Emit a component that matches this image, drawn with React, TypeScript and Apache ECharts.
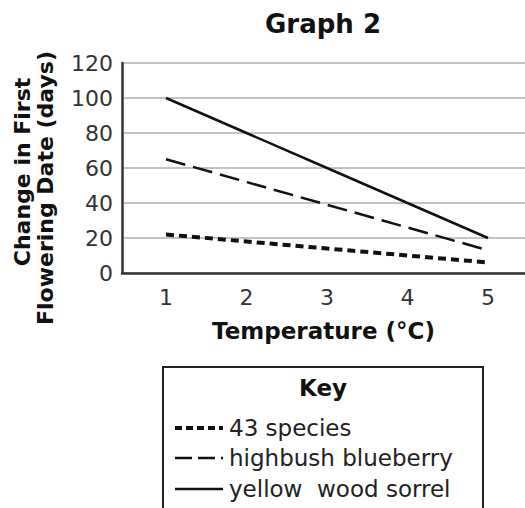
import React, { useEffect, useRef } from "react";
import * as echarts from "echarts";

const temperatures = [1, 2, 3, 4, 5];
const species43 = [22, 18, 14, 10, 6];
const blueberry = [65, 52, 39, 26, 13];
const sorrel = [100, 80, 60, 40, 20];
const yTicks = [0, 20, 40, 60, 80, 100, 120];
const seriesNames = ["43 species", "highbush blueberry", "yellow  wood sorrel"];

const FONT = "DejaVu Sans, Verdana, sans-serif";

export default function App() {
  const ref = useRef<HTMLDivElement>(null);
  useEffect(() => {
    if (!ref.current) return;
    const chart = echarts.init(ref.current, null, { renderer: "svg" });
    const pts = (vals: number[]) => temperatures.map((t, i) => [t, vals[i]]);
    const legendY = [428, 458, 489];
    const dashes: any[] = [
      { lineWidth: 4, lineDash: [7, 4] },
      { lineWidth: 2.5, lineDash: [17, 6] },
      { lineWidth: 2.5, lineDash: null },
    ];
    chart.setOption({
      animation: false,
      textStyle: { fontFamily: FONT },
      grid: { left: 122, right: 0, top: 63, bottom: 235 },
      xAxis: {
        type: "value",
        min: 0.453,
        max: 5.46,
        name: "Temperature (°C)",
        nameLocation: "middle",
        nameGap: 46,
        nameTextStyle: { fontSize: 23, fontWeight: "bold", color: "#111", fontFamily: FONT },
        axisLine: { show: true, lineStyle: { color: "#333", width: 2.5 } },
        axisTick: { show: false },
        splitLine: { show: false },
        axisLabel: {
          customValues: temperatures,
          fontSize: 22,
          color: "#333",
          margin: 13,
          fontFamily: FONT,
        },
      },
      yAxis: {
        type: "value",
        min: 0,
        max: 120,
        interval: 20,
        axisLine: { show: true, lineStyle: { color: "#333", width: 2.5 } },
        axisTick: { show: false },
        splitLine: { show: true, lineStyle: { color: "#c4c4c4", width: 2 } },
        axisLabel: {
          customValues: yTicks,
          fontSize: 22,
          color: "#333",
          margin: 9,
          fontFamily: FONT,
        },
      },
      series: [
        {
          name: seriesNames[0],
          type: "line",
          data: pts(species43),
          symbol: "none",
          lineStyle: { color: "#111", width: 4, type: [8, 5], cap: "butt" },
        },
        {
          name: seriesNames[1],
          type: "line",
          data: pts(blueberry),
          symbol: "none",
          lineStyle: { color: "#111", width: 2.5, type: [20, 8] },
        },
        {
          name: seriesNames[2],
          type: "line",
          data: pts(sorrel),
          symbol: "none",
          lineStyle: { color: "#111", width: 2.5 },
        },
      ],
      graphic: [
        {
          type: "text",
          x: 323,
          y: 24,
          style: { text: "Graph 2", font: `bold 26px ${FONT}`, fill: "#111", align: "center", verticalAlign: "middle" },
        },
        {
          type: "text",
          x: 22,
          y: 172,
          rotation: Math.PI / 2,
          style: { text: "Change in First", font: `bold 22px ${FONT}`, fill: "#111", align: "center", verticalAlign: "middle" },
        },
        {
          type: "text",
          x: 45,
          y: 188,
          rotation: Math.PI / 2,
          style: { text: "Flowering Date (days)", font: `bold 22px ${FONT}`, fill: "#111", align: "center", verticalAlign: "middle" },
        },
        {
          type: "rect",
          shape: { x: 163, y: 367, width: 320, height: 170 },
          style: { fill: "#fff", stroke: "#222", lineWidth: 2 },
        },
        {
          type: "text",
          x: 323,
          y: 388,
          style: { text: "Key", font: `bold 23px ${FONT}`, fill: "#111", align: "center", verticalAlign: "middle" },
        },
        ...seriesNames.flatMap((n, i) => [
          {
            type: "line",
            shape: { x1: 175, y1: legendY[i], x2: 223, y2: legendY[i] },
            style: { stroke: "#111", lineWidth: dashes[i].lineWidth, lineDash: dashes[i].lineDash },
          },
          {
            type: "text",
            x: 229,
            y: legendY[i],
            style: { text: n, font: `23px ${FONT}`, fill: "#222", align: "left", verticalAlign: "middle" },
          },
        ]),
      ],
    });
    return () => chart.dispose();
  }, []);
  return (
    <div
      ref={ref}
      style={{ position: "absolute", left: 0, top: 0, width: 525, height: 508 }}
    />
  );
}
